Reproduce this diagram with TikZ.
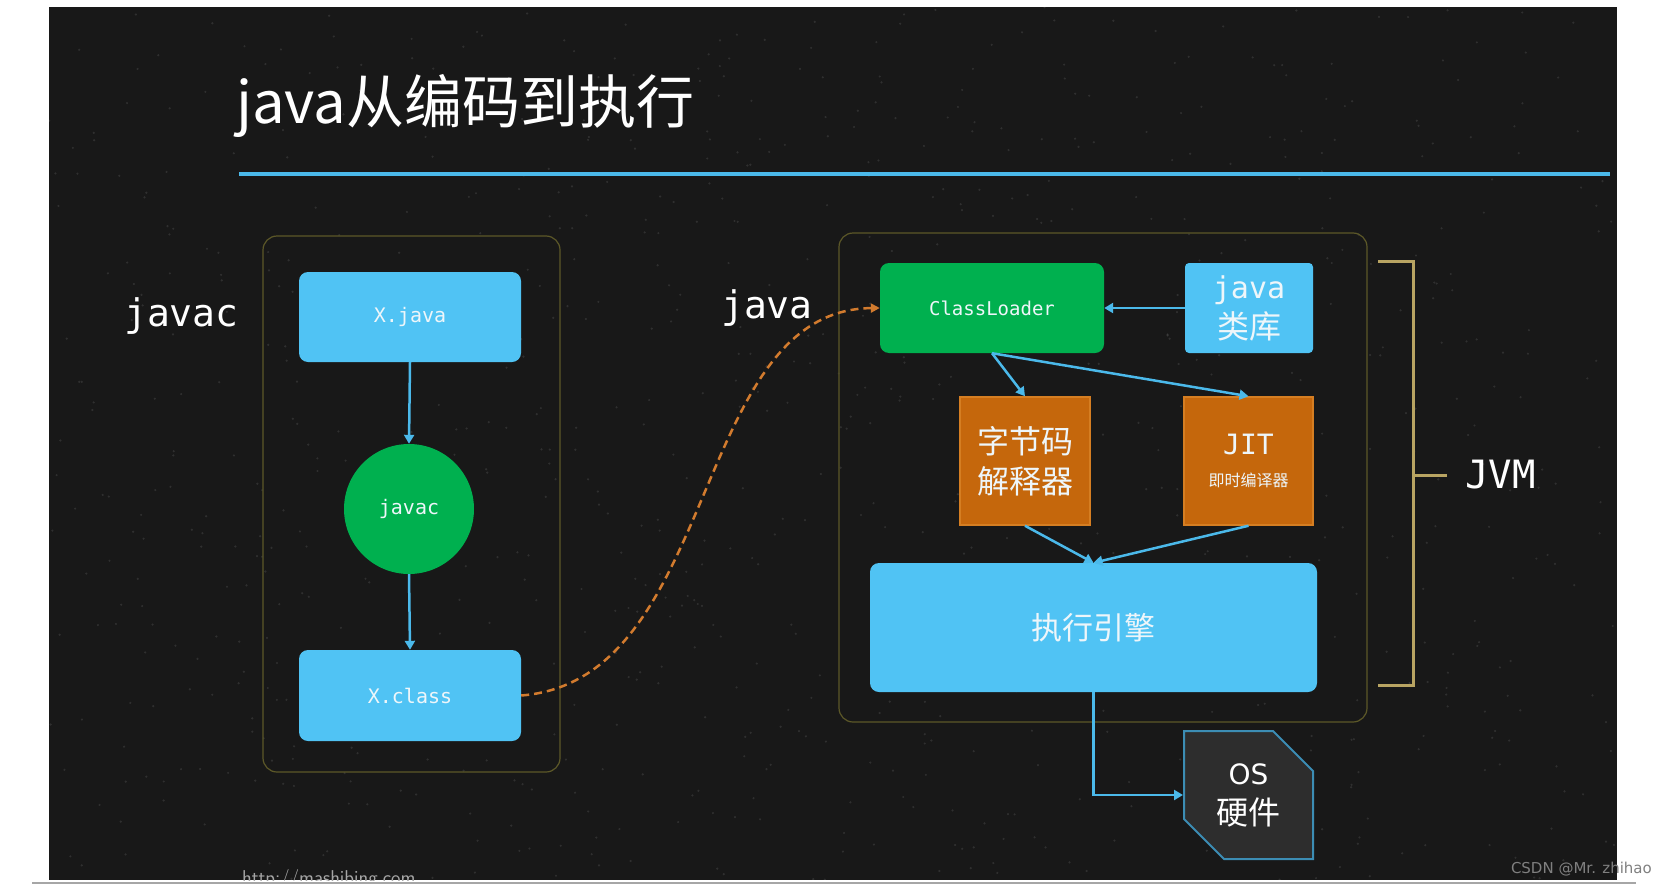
\documentclass[tikz,border=0pt]{standalone}
\usepackage{fontspec}
\setmainfont{DejaVu Sans}
\newfontfamily\cjk{Noto Sans CJK SC}
\newfontfamily\mono{DejaVu Sans Mono}
\usetikzlibrary{arrows.meta,shapes.misc}
\definecolor{bg}{HTML}{181818}
\definecolor{boxblue}{HTML}{50C3F4}
\definecolor{boxgreen}{HTML}{00B04F}
\definecolor{boxorange}{HTML}{C5670C}
\definecolor{orangeedge}{HTML}{D57E22}
\definecolor{olive}{HTML}{5C5828}
\definecolor{gold}{HTML}{B8A462}
\definecolor{arrowblue}{HTML}{4BB9EA}
\definecolor{dashorange}{HTML}{D27B2E}
\definecolor{txt}{HTML}{EEF6FA}
\definecolor{osfill}{HTML}{2D2D2D}
\definecolor{osedge}{HTML}{3C8DB4}
\tikzset{
  bluebox/.style={fill=boxblue, rounded corners=9pt, text=txt, inner sep=0pt, align=center},
  greenbox/.style={fill=boxgreen, rounded corners=9pt, text=txt, inner sep=0pt, align=center},
  orangebox/.style={fill=boxorange, draw=orangeedge, line width=1.5pt, text=txt, inner sep=0pt, align=center},
  container/.style={draw=olive, line width=1.2pt, rounded corners=14pt},
  arr/.style={draw=arrowblue, line width=2.5pt, -{Triangle[length=9pt,width=10pt]}},
  sidelabel/.style={text=white, font=\mono\fontsize{38}{40}\selectfont, inner sep=0pt, anchor=west},
  bracket/.style={draw=gold, line width=3pt},
}
\begin{document}
\begin{tikzpicture}[x=1pt,y=-1pt]
\useasboundingbox (0,0) rectangle (1666,886);
\fill[white] (0,0) rectangle (1666,886);
\fill[bg] (49,7) rectangle (1617,880);
\begin{scope}
\clip (49,7) rectangle (1617,880);
\pgfmathsetseed{7}
\foreach \i in {1,...,900}{
  \pgfmathsetmacro{\px}{49+1568*rnd}
  \pgfmathsetmacro{\py}{7+873*rnd}
  \fill[white,opacity=0.10] (\px,\py) circle (1.2pt);
}
\node[text=gray!70, font=\sffamily\fontsize{20}{22}\selectfont, anchor=west, inner sep=0pt] (url) at (242,879) {http://mashibing.com};
\end{scope}
\draw[gray!70, line width=2pt] (32,883) -- (1636,883);
\node[text=gray, font=\fontsize{15}{16}\selectfont, anchor=east, inner sep=0pt] (wm) at (1652,869) {CSDN @Mr. zhihao};

% title
\node[text=white, font=\cjk\fontsize{58}{60}\selectfont, anchor=west, inner sep=0pt] (title) at (236,106) {java从编码到执行};
\draw[draw=arrowblue, line width=4pt] (239,174) -- (1610,174);

% containers
\draw[container] (263,236) rectangle (560,772);
\draw[container] (839,233) rectangle (1367,722);

% left column
\node[sidelabel] (lblJavac) at (124,316) {javac};
\node[bluebox, minimum width=222pt, minimum height=90pt, font=\mono\fontsize{20}{22}\selectfont] (xjava) at (410,317) {X.java};
\node[circle, fill=boxgreen, minimum size=130pt, inner sep=0pt, text=txt, font=\mono\fontsize{20}{22}\selectfont] (javac) at (409,509) {javac};
\node[bluebox, minimum width=222pt, minimum height=91pt, font=\mono\fontsize{20}{22}\selectfont] (xclass) at (410,695.5) {X.class};
\draw[arr] (xjava.south) -- (javac.north);
\draw[arr] (javac.south) -- (xclass.north);

% right part
\node[sidelabel] (lblJava) at (721,308) {java};
\node[greenbox, minimum width=224pt, minimum height=90pt, font=\mono\fontsize{19}{22}\selectfont] (cl) at (992,308) {ClassLoader};
\node[bluebox, rounded corners=4pt, minimum width=128pt, minimum height=90pt, font=\fontsize{30}{40}\selectfont] (lib) at (1249,308) {{\mono\fontsize{30}{30}\selectfont java}\\{\cjk\fontsize{32}{34}\selectfont 类库}};
\node[orangebox, minimum width=130pt, minimum height=128pt, font=\cjk\fontsize{32}{40}\selectfont] (interp) at (1025,461) {字节码\\解释器};
\node[orangebox, minimum width=129pt, minimum height=128pt, font=\fontsize{16}{32}\selectfont] (jit) at (1248.5,461) {{\mono\fontsize{28}{30}\selectfont JIT}\\{\cjk\fontsize{16}{18}\selectfont 即时编译器}};
\node[bluebox, minimum width=447pt, minimum height=129pt, font=\cjk\fontsize{31}{34}\selectfont] (engine) at (1093.5,627.5) {执行引擎};
\node[chamfered rectangle, chamfered rectangle corners={north east,south west}, chamfered rectangle xsep=20pt, chamfered rectangle ysep=20pt, fill=osfill, draw=osedge, line width=2pt, minimum width=129pt, minimum height=128pt, inner sep=0pt, text=white, align=center, font=\fontsize{28}{40}\selectfont] (os) at (1248.5,795) {{\fontsize{28}{30}\selectfont OS}\\{\cjk\fontsize{32}{34}\selectfont 硬件}};

\draw[arr] (lib.west) -- (cl.east);
\draw[arr] (cl.south) -- (interp.north);
\draw[arr] (cl.south) -- (jit.north);
\draw[arr] (interp.south) -- (engine.north);
\draw[arr] (jit.south) -- (engine.north);
\draw[arr] (engine.south) |- (os.west);

\draw[draw=dashorange, line width=2.5pt, dash pattern=on 8pt off 5pt, -{Triangle[length=9pt,width=9pt]}] (xclass.east) .. controls (720,680) and (690,310) .. (cl.west);

% JVM bracket
\coordinate (bt) at (1378,261);
\coordinate (bb) at (1378,685);
\coordinate (bm) at (1447,475);
\draw[bracket] (bt) -- (1413,261) -- (1413,685) -- (bb);
\draw[bracket] (1413,475) -- (bm);
\node[sidelabel, font=\mono\fontsize{39}{40}\selectfont] (jvm) at (1465,475) {JVM};
\end{tikzpicture}
\end{document}
